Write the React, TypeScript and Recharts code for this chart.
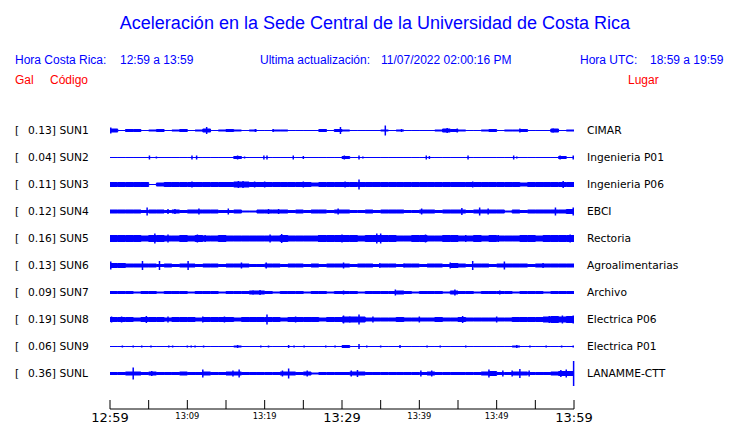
import React from 'react';
import { ComposedChart, Area, Scatter, ErrorBar, XAxis, YAxis } from 'recharts';

// station info
const codes = ['SUN1', 'SUN2', 'SUN3', 'SUN4', 'SUN5', 'SUN6', 'SUN7', 'SUN8', 'SUN9', 'SUNL'];
const peaks = ['0.13', '0.04', '0.11', '0.12', '0.16', '0.13', '0.09', '0.19', '0.06', '0.36'];
const places = ['CIMAR', 'Ingenieria P01', 'Ingenieria P06', 'EBCI', 'Rectoria', 'Agroalimentarias',
  'Archivo', 'Electrica P06', 'Electrica P01', 'LANAMME-CTT'];

// minutes after 12:59
const timeTicks = [0, 5, 10, 15, 20, 25, 30, 35, 40, 45, 50, 55, 60];
const timeLabels: Record<number, string> = { 0: '12:59', 10: '13:09', 20: '13:19', 30: '13:29', 40: '13:39', 50: '13:49', 60: '13:59' };
const bigLabels = [0, 30, 60];

// envelope per minute (half amplitude, in trace units x 27)
const sun1Env = [1.5,0,1,1,0,0.5,1,0,0.5,1, 0,0.5,1.5,0,0.5,1,0.5,0,0.5,0, 0,0.5,0.5,0,0,0,0,1,0,1, 0.5,0,0,0,0,0.5,0,0.5,0,0, 0,0,0.5,1.5,1,0.5,0,0,0.5,1, 0,0.5,0.5,1,0,0,0,1.5,0,0.5];
const sun2Env = [0,0,0,0,0,0,0,0,0,0, 0,0,0,0,0,0,1,0,0,0, 0,0,0,0,0,0,0,0,0,0, 1,0,0,0,0,0,0,0,0,0, 0,0,0,0,0,0,0,0,0,0, 0,0,0,0,0,0,0,0,1,0];
const sun3Env = [2,2,2,2,2,0,1.5,2,2,2, 2,2,2,2,2,2,2.5,2.5,2,2, 2,2,2,2,2,2,1.5,2,2,2, 2,2,2,2,2,2,2,2,2,2, 2,2,2,2,2,2,2,2,2,2, 2,2,2,1.5,2,2,2,2,2,2];
const sun4Env = [1.5,1.5,1.5,1.5,1,1.5,1.5,1,1.5,1, 1.5,1.5,1.5,1.5,1,1,1.5,0.5,0.5,1.5, 1.5,1.5,1.5,1,1.5,1,1.5,1.5,1,1.5, 1.5,1,1,1.5,1,1.5,1.5,1.5,1,1, 1.5,1.5,1,1.5,1.5,1.5,1,1.5,1.5,1.5, 1.5,0.5,1.5,1,1.5,1.5,1.5,1.5,1.5,2];
const sun5Env = [3,3,3,3,2.5,3,3,2.5,2.5,3, 2.5,3,2.5,2.5,3,2.5,2.5,2.5,2.5,2.5, 2.5,2.5,3,2.5,2.5,2.5,2.5,3,3,3, 3,3,2.5,3,3,3,3,2.5,2.5,3, 3,2.5,2.5,3,3,2.5,2.5,3,2.5,3, 2.5,2.5,2.5,3,3,2.5,3,3,3,3];
const sun6Env = [2,2,1.5,1.5,1.5,1.5,1,1.5,1,1.5, 1.5,1,1.5,1.5,1,1.5,1.5,1.5,1,1, 1.5,1.5,1,1.5,1.5,1,1.5,1,1.5,1.5, 1.5,1,1.5,1.5,1,1.5,1.5,1,1.5,1.5, 1,1.5,1.5,1,2,1.5,1,1.5,1.5,1, 1.5,1.5,1.5,1.5,1,1.5,1.5,1.5,1.5,1.5];
const sun7Env = [1,1,1,0.5,1,1,0.5,1,1,1, 0.5,1,1,1,0.5,1,1,1,1.5,1.5, 1,0.5,1,1,1,0.5,1,1,0.5,1, 1,1,0.5,1,1,1,1,1.5,1,0.5, 1,1,1,0.5,1.5,1,1,0.5,1,1, 1,1,0.5,1,1,1,0.5,1,1,1];
const sun8Env = [2,2,2,1.5,2,2,2,1.5,2,2, 2,1.5,2,2,2,2,1.5,2,2,2, 2,2,1.5,2,2,2,2,1.5,2,2, 2.5,2.5,2.5,1.5,1.5,1.5,1.5,2,1.5,1.5, 1.5,1.5,2,1.5,1.5,2,1.5,1.5,1.5,1.5, 1.5,1.5,2,2,2,2,2.5,3,2.5,3];
const sun9Env = [0,0,0,0,0,0,0,0,0,0, 0,0,0,0,0,0,0.5,0,0,0, 0,0,0,0,0,0,0,0,0,0, 1,0,0,0,0,0,0,0,0,0, 0,0,0,0,0,0,0,0,0,0, 0,0,0.5,0,0,0,0,0,0,0];
const sunlEnv = [1,1,1.5,1.5,1,1.5,1,1,1,1.5, 1,1,1.5,1,1,1.5,1.5,1,1,1, 1,1,1.5,1.5,1,1.5,0.5,1,1,1, 1,1.5,1.5,1,1,1,1,1,1,1, 1,1.5,1,1,1,1,1,1,1.5,2, 1,1,1.5,1.5,1,1,1,1.5,2,2];

// short bursts: [minute, half amplitude]
const sun1Spikes = [[0.1,3],[2.5,1.5],[3.5,1.5],[6.3,1.5],[9.2,1.5],[12.5,3.5],[15.3,1.5],[18.8,1.5],[21.1,1.5],[29.8,3.5],[35.6,5],[37.7,1.5],[43.6,2.5],[44.9,2],[49.2,1.5],[53,2],[57.3,2]];
const sun2Spikes = [[5.1,2],[6,1],[10.6,2],[11.2,2],[16.5,2],[17.4,1],[19.9,2],[20.3,2],[23.7,2],[25,1.5],[30.3,2],[32.2,2],[32.7,1],[40.9,2],[41.3,1.5],[46.3,2],[52.2,2],[52.6,1],[58.2,2],[59.9,2]];
const sun3Spikes = [[10.6,3],[16.6,3.5],[17.2,3.5],[18.7,3],[20,3],[25,3],[30.4,3],[32.2,5],[46.9,3],[58.6,3.5]];
const sun4Spikes = [[4.8,4],[7.5,2.5],[8.4,2.5],[11.5,3],[15.3,3],[20.5,2.5],[21.8,2.5],[29.5,3],[40.3,3],[45.5,3.5],[47.8,4],[48.9,3],[57.6,4],[59.9,4]];
const sun5Spikes = [[2.8,3.5],[5.8,5],[7.5,4],[11.3,4],[12.3,3.5],[20.7,4],[22.2,4.5],[27,3.5],[30,4],[33.5,3.5],[34.5,5],[35,5],[40.8,4],[46,3.5],[50.2,3.5],[56.5,3.5],[59.5,4]];
const sun6Spikes = [[0.1,4],[4.2,4.5],[6.4,4.5],[10.1,4.5],[17,3],[20.2,3],[30.2,3],[34.9,2.5],[38,2],[44,3],[46.9,4.5],[51,4],[56,2.5]];
const sun7Spikes = [[18.5,2],[19.4,2.5],[30.2,2],[36.9,3],[44.6,3],[50.4,2]];
const sun8Spikes = [[0.2,3],[1.5,3],[4.7,3.5],[7.5,3],[12,3],[14.8,3],[20.3,5],[24,3],[30.2,4],[31,3],[32.2,5],[34,3],[40,3],[45.6,3.5],[50,3],[56.8,3.5],[57.6,3.5],[58.5,4],[59.9,4]];
const sun9Spikes = [[1.6,1],[3,1],[4.1,1],[5.3,1],[7.6,1],[8.1,1],[10,1],[10.5,1],[11,1],[12.1,1],[16.5,1.5],[19.5,1],[20.5,1],[23.1,1.5],[23.8,1],[25.1,1],[27.9,1],[29.1,1],[30.4,1.5],[32.2,2.5],[33.2,1],[35,1],[37.5,1.5],[41,1],[42.7,1],[46,1],[52.6,1.5],[54.3,1],[56.4,1],[58.4,1],[59.9,1]];
const sunlSpikes = [[3,6],[5.4,2.5],[12,4],[15.9,3],[16.7,4],[22.3,3],[23.1,5],[25.5,3],[31.2,3],[32,3.5],[40.2,3],[41.6,3],[49,4],[50.8,3],[52,3],[53,4.5],[54.2,3],[58.3,3.5],[59,4],[59.95,12.5]];

const envs = [sun1Env, sun2Env, sun3Env, sun4Env, sun5Env, sun6Env, sun7Env, sun8Env, sun9Env, sunlEnv];
const spikes = [sun1Spikes, sun2Spikes, sun3Spikes, sun4Spikes, sun5Spikes, sun6Spikes, sun7Spikes, sun8Spikes, sun9Spikes, sunlSpikes];

const SCALE = 27; // amplitude units per trace spacing
const BLUE = '#0000ff';

const table = Array.from({ length: 61 }, (_, t) => {
  const row: any = { t };
  envs.forEach((env, k) => {
    const a = env[Math.min(t, 59)] / SCALE;
    row['s' + k] = [k - a, k + a];
  });
  return row;
});

const spikeData = spikes.flatMap((list, k) => list.map(([t, a]) => ({ t, y: k, err: a / SCALE })));

const lo = -57 / 54;
const hi = lo + 307 / 27;

const StationTick = (props: any) => {
  const k = props.payload.value;
  return (
    <g fontFamily="DejaVu Sans" fontSize={10.7} fill="#000">
      <text x={15} y={props.y} dy="0.35em">[</text>
      <text x={28} y={props.y} dy="0.35em">{peaks[k]}] {codes[k]}</text>
      <text x={587} y={props.y} dy="0.35em">{places[k]}</text>
    </g>
  );
};

const TimeTick = (props: any) => {
  const { x, y, payload } = props;
  const label = timeLabels[payload.value];
  const big = bigLabels.includes(payload.value);
  return (
    <g>
      <line x1={x} x2={x} y1={y - 9} y2={y} stroke="#000" />
      {label && (
        <text x={x} y={big ? y + 12.5 : y + 9.5} textAnchor="middle" fontFamily="DejaVu Sans"
          fontSize={big ? 13 : 8.3} fill="#000">{label}</text>
      )}
    </g>
  );
};

const head: React.CSSProperties = { position: 'absolute', fontFamily: 'Liberation Sans', fontSize: 12, color: BLUE, whiteSpace: 'pre', lineHeight: '14px' };

export default function App() {
  return (
    <div style={{ position: 'relative', width: 740, height: 423, background: '#fff' }}>
      <style>{'body{margin:0}'}</style>
      <div style={{ ...head, left: 0, width: 750, top: 12, fontSize: 18, lineHeight: '22px', textAlign: 'center' }}>
        Aceleración en la Sede Central de la Universidad de Costa Rica
      </div>
      <div style={{ ...head, left: 15, top: 53 }}>Hora Costa Rica:</div>
      <div style={{ ...head, left: 120, top: 53 }}>12:59 a 13:59</div>
      <div style={{ ...head, left: 260, top: 53 }}>Ultima actualización:</div>
      <div style={{ ...head, left: 381, top: 53 }}>11/07/2022 02:00:16 PM</div>
      <div style={{ ...head, left: 580, top: 53 }}>Hora UTC:</div>
      <div style={{ ...head, left: 650, top: 53 }}>18:59 a 19:59</div>
      <div style={{ ...head, left: 15, top: 73, color: '#ff0000' }}>Gal</div>
      <div style={{ ...head, left: 50, top: 73, color: '#ff0000' }}>Código</div>
      <div style={{ ...head, left: 628, top: 73, color: '#ff0000' }}>Lugar</div>
      <ComposedChart width={740} height={423} data={table} margin={{ top: 102, right: 166, bottom: 0, left: 0 }}>
        <XAxis dataKey="t" type="number" domain={[0, 60]} ticks={timeTicks} interval={0}
          height={14} tickSize={0} tickMargin={0} tickLine={false} axisLine={{ stroke: '#000' }}
          tick={<TimeTick />} allowDataOverflow />
        <YAxis type="number" domain={[lo, hi]} reversed allowDataOverflow width={110}
          ticks={codes.map((_, i) => i)} interval={0} axisLine={false} tickLine={false} tick={<StationTick />} />
        {envs.map((_, k) => (
          <Area key={k} dataKey={'s' + k} type="stepAfter" stroke={BLUE} strokeWidth={1}
            fill={BLUE} fillOpacity={1} isAnimationActive={false} dot={false} activeDot={false} />
        ))}
        <Scatter data={spikeData} dataKey="y" isAnimationActive={false} shape={() => <g />}>
          <ErrorBar dataKey="err" direction="y" width={0} stroke={BLUE} strokeWidth={1.5} isAnimationActive={false} />
        </Scatter>
      </ComposedChart>
    </div>
  );
}
